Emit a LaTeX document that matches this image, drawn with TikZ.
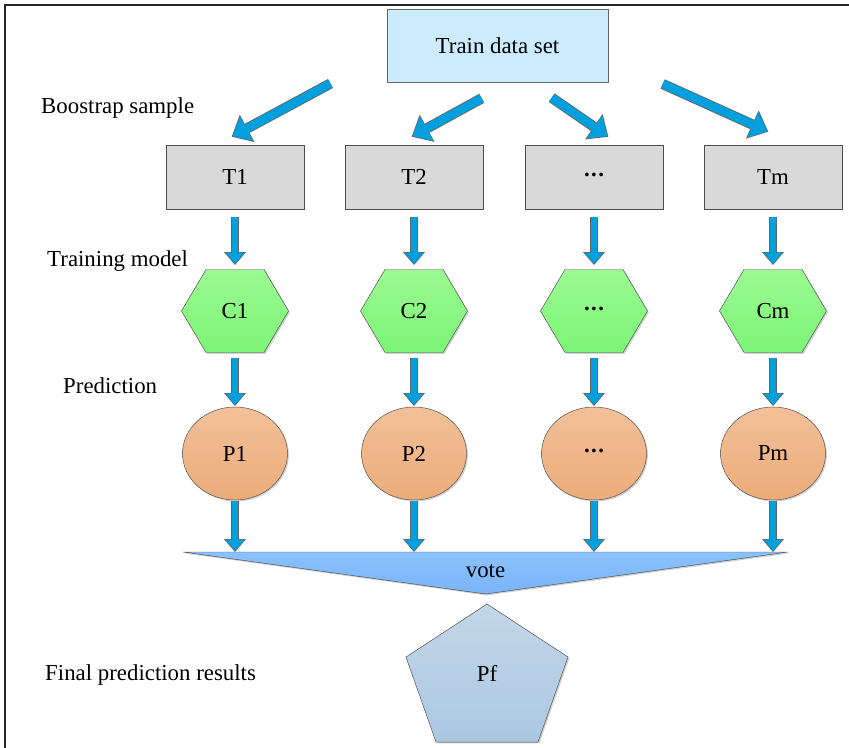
\documentclass[tikz,border=0pt]{standalone}
\usepackage{fontspec}
\setmainfont{Liberation Serif}
\usetikzlibrary{positioning,shapes,arrows.meta,shadows,calc,backgrounds}
\definecolor{trainblue}{RGB}{204,235,252}
\definecolor{boxgray}{RGB}{217,217,217}
\definecolor{arrblue}{RGB}{0,160,222}
\definecolor{hextop}{RGB}{154,250,146}
\definecolor{hexbot}{RGB}{124,245,118}
\definecolor{petop}{RGB}{242,192,152}
\definecolor{pebot}{RGB}{236,172,122}
\definecolor{vtop}{RGB}{138,194,252}
\definecolor{vbot}{RGB}{122,180,250}
\definecolor{pgtop}{RGB}{194,214,232}
\definecolor{pgbot}{RGB}{172,200,225}
\newcommand{\mdots}{\raisebox{0.22em}{\bfseries .\kern1.2pt.\kern1.2pt.}}
\tikzstyle{shd}=[drop shadow={shadow xshift=1.2pt, shadow yshift=-1.2pt, opacity=0.3, fill=black!60}]
\tikzstyle{tb}=[%
      rectangle, draw=black!60, fill=trainblue, shd,
      minimum width=6.63cm, minimum height=2.19cm, outer sep=0pt
]
\tikzstyle{sb}=[%
      rectangle, draw=black!70, fill=boxgray, shd,
      minimum width=4.14cm, minimum height=1.92cm, outer sep=0pt
]
\tikzstyle{hl}=[%
      rectangle, minimum width=3.21cm, minimum height=2.49cm, inner sep=0pt, outer sep=0pt
]
\tikzstyle{hx}=[%
      draw=black!70, top color=hextop, bottom color=hexbot, shd
]
\tikzstyle{pe}=[%
      ellipse, draw=black!70, top color=petop, bottom color=pebot, shd,
      minimum width=3.15cm, minimum height=2.79cm, inner sep=0pt, outer sep=0pt
]
\tikzstyle{vt}=[%
      draw=black!70, top color=vtop, bottom color=vbot, shd
]
\tikzstyle{pg}=[%
      draw=black!70, top color=pgtop, bottom color=pgbot, shd
]
\tikzstyle{lb}=[anchor=base west, inner sep=0pt]
\tikzstyle{fat}=[%
      line width=7.2pt, draw=black!60, -{Triangle[length=11pt,width=18.7pt,line width=0pt]},
      postaction={draw=arrblue, line width=5.7pt, shorten >=0.9pt,
        -{Triangle[length=9.6pt,width=16pt,line width=0pt]}}
]
\tikzstyle{fatd}=[%
      line width=8.8pt, draw=black!60, -{Triangle[length=15pt,width=26.5pt,line width=0pt]},
      postaction={draw=arrblue, line width=7.3pt, shorten >=1pt,
        -{Triangle[length=13.4pt,width=23.6pt,line width=0pt]}}
]

\begin{document}
\begin{tikzpicture}[x=0.03cm, y=-0.03cm, font=\fontsize{19.5}{23}\selectfont]
    \useasboundingbox (0,0) rectangle (849,747);
    \draw[line width=1.5pt, black!85] (870,5) -- (5,5) -- (5,770);

    \node[tb] (train) at (497.5,45.5) {Train data set};

    \node[lb] (l1) at (41,113)  {Boostrap sample};
    \node[lb] (l2) at (47,266)  {Training model};
    \node[lb] (l3) at (63,393)  {Prediction};
    \node[lb] (l4) at (45,680)  {Final prediction results};

    \foreach \i/\x/\t/\c/\p in {1/235/T1/C1/P1, 2/414/T2/C2/P2,
        3/594/\mdots/\mdots/\mdots, 4/773/Tm/Cm/Pm} {
      \node[sb] (t\i) at (\x,177)   {\t};
      \node[hl] (c\i) at (\x,311)   {\c};
      \node[pe] (p\i) at (\x,453.5) {\p};
    }

    \node[hl, minimum width=18.15cm, minimum height=1.26cm] (vote) at (485.5,573) {\raisebox{2.5pt}{vote}};
    \node[hl, minimum width=4.86cm, minimum height=4.14cm] (pf) at (487,673) {Pf};

    \begin{scope}[on background layer]
      \foreach \i in {1,...,4}
        \path[hx] (c\i.west) -- ($(c\i.north)+(-29,0)$) -- ($(c\i.north)+(29,0)$)
          -- (c\i.east) -- ($(c\i.south)+(29,0)$) -- ($(c\i.south)+(-29,0)$) -- cycle;
      \path[vt] (vote.north west) -- (vote.north east) -- (vote.south) -- cycle;
      \path[pg] (pf.north) -- ($(pf.east)+(0,-16)$) -- ($(pf.south)+(51,0)$)
        -- ($(pf.south)+(-51,0)$) -- ($(pf.west)+(0,-16)$) -- cycle;
    \end{scope}

    % bootstrap arrows
    \coordinate (s1) at (330.5,83.5);
    \coordinate (s2) at (481.7,98.3);
    \coordinate (s3) at (551.7,97.7);
    \coordinate (s4) at (662.7,84);
    \draw[fatd] (s1) -- ($(t1.north)+(-3.3,-8.3)$);
    \draw[fatd] (s2) -- ($(t2.north)+(-2.3,-8.3)$);
    \draw[fatd] (s3) -- ($(t3.north)+(14.3,-8.3)$);
    \draw[fatd] (s4) -- ($(t4.north)+(-4.7,-13.3)$);

    \foreach \i in {1,...,4} {
      \draw[fat] ($(t\i.south)+(0,7.7)$) -- ($(c\i.north)+(0,-4.5)$);
      \draw[fat] ($(c\i.south)+(0,5.5)$) -- ($(p\i.north)+(0,-1)$);
      \draw[fat] ($(p\i.south)+(0,0.7)$) -- (p\i.south |- vote.north);
    }
\end{tikzpicture}
\end{document}
